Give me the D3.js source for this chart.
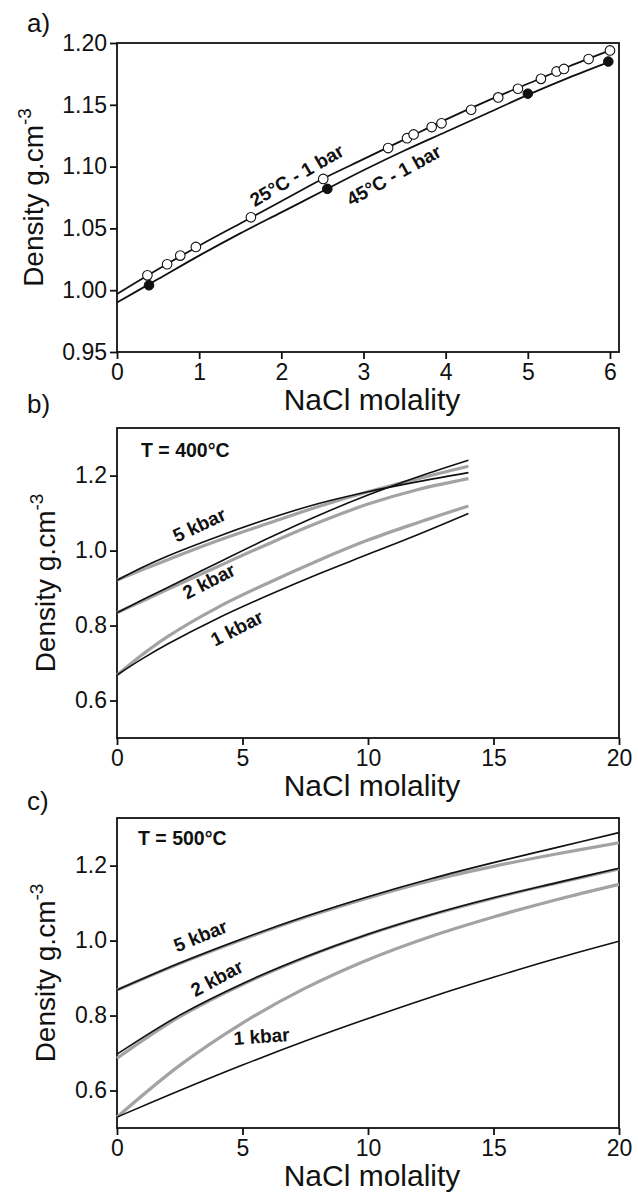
<!DOCTYPE html>
<html><head><meta charset="utf-8">
<script src="https://cdn.jsdelivr.net/npm/d3@7"></script>
<style>
body{margin:0;background:#fff}
svg{display:block}
text{font-family:"Liberation Sans",Arial,Helvetica,sans-serif}
</style>
</head><body>
<svg id="chart" width="638" height="1197"></svg>
<script>
// ---------- DATA ----------
// Panel a) 1 bar, 0–6 molal
const aLineM = [0,0.5,1,1.5,2,2.5,3,3.5,4,4.5,5,5.5,6];
const a25Line = [0.997,1.017,1.036,1.054,1.072,1.090,1.106,1.122,1.138,1.153,1.167,1.181,1.194];
const a45Line = [0.990,1.009,1.028,1.046,1.063,1.080,1.097,1.113,1.128,1.143,1.158,1.172,1.185];
const a25PtsM = [0.37,0.61,0.77,0.96,1.63,2.51,3.30,3.53,3.61,3.83,3.95,4.31,4.64,4.88,5.16,5.35,5.44,5.74,6.00];
const a25PtsD = [1.012,1.021,1.028,1.035,1.059,1.090,1.115,1.123,1.126,1.132,1.135,1.146,1.156,1.163,1.171,1.177,1.179,1.187,1.194];
const a45PtsM = [0.39,2.56,5.00,5.98];
const a45PtsD = [1.004,1.082,1.159,1.185];
const aXTicks = [0,1,2,3,4,5,6];
const aYTicks = [0.95,1.00,1.05,1.10,1.15,1.20];

// Panel b) T = 400°C
const bM = [0,1,2,4,6,8,10,12,14];
const b5Black = [0.921,0.955,0.985,1.037,1.084,1.125,1.157,1.184,1.208];
const b5Gray  = [0.921,0.949,0.975,1.026,1.072,1.117,1.157,1.192,1.225];
const b2Black = [0.834,0.868,0.901,0.967,1.032,1.093,1.148,1.197,1.241];
const b2Gray  = [0.834,0.865,0.896,0.957,1.017,1.074,1.124,1.163,1.192];
const b1Black = [0.668,0.711,0.750,0.819,0.880,0.937,0.990,1.043,1.099];
const b1Gray  = [0.668,0.722,0.770,0.848,0.913,0.973,1.028,1.075,1.119];

// Panel c) T = 500°C
const cM = [0,2.5,5,7.5,10,12.5,15,17.5,20];
const c5Black = [0.868,0.940,1.005,1.064,1.117,1.165,1.208,1.248,1.288];
const c5Gray  = [0.868,0.939,1.003,1.062,1.114,1.160,1.198,1.231,1.261];
const c2Black = [0.697,0.801,0.885,0.956,1.017,1.069,1.114,1.154,1.193];
const c2Gray  = [0.686,0.797,0.883,0.955,1.016,1.068,1.113,1.153,1.191];
const c1Black = [0.529,0.600,0.668,0.732,0.792,0.849,0.902,0.952,0.998];
const c1Gray  = [0.529,0.667,0.780,0.873,0.949,1.011,1.063,1.109,1.150];

const bcXTicks = [0,5,10,15,20];
const bcYTicks = [0.6,0.8,1.0,1.2];

// ---------- DRAW ----------
const svg = d3.select("#chart");
const L = 117, R = 619;
const INK = "#111";
const GRAY = "#a3a3a3";

function panel(o){
  const x = d3.scaleLinear().domain(o.xDom).range([L,R]);
  const y = d3.scaleLinear().domain(o.yDom).range([o.bottom,o.top]);
  const g = svg.append("g");
  const xa = g.append("g").attr("transform",`translate(0,${o.bottom})`)
    .call(d3.axisBottom(x).tickValues(o.xTicks).tickSize(7).tickPadding(5).tickFormat(d3.format("d")));
  const ya = g.append("g").attr("transform",`translate(${L},0)`)
    .call(d3.axisLeft(y).tickValues(o.yTicks).tickSize(7).tickPadding(3).tickFormat(d3.format(o.yFmt)));
  [xa,ya].forEach(a=>{
    a.select(".domain").remove();
    a.selectAll(".tick line").attr("stroke",INK).attr("stroke-width",1.8);
    a.selectAll(".tick text").attr("fill",INK).attr("font-size",23).attr("font-family",'"Liberation Sans",Arial,sans-serif');
  });
  g.append("rect").attr("x",L).attr("y",o.top).attr("width",R-L).attr("height",o.bottom-o.top)
    .attr("fill","none").attr("stroke",INK).attr("stroke-width",1.8);
  g.append("text").attr("x",(L+R)/2+4).attr("y",o.bottom+58).attr("text-anchor","middle")
    .attr("font-size",30).attr("fill",INK).text("NaCl molality");
  const yt = g.append("text").attr("transform",`translate(${o.yTitleX},${(o.top+o.bottom)/2}) rotate(-90)`)
    .attr("text-anchor","middle").attr("font-size",28).attr("fill",INK);
  yt.append("tspan").text("Density g.cm");
  yt.append("tspan").attr("font-size",19).attr("dy",-12).text("-3");
  g.append("text").attr("x",27).attr("y",o.labelY).attr("font-size",26).attr("fill",INK).text(o.label);
  return {g,x,y};
}

function curve(p, xs, ys, color, w){
  const line = d3.line().x((d,i)=>p.x(xs[i])).y(d=>p.y(d)).curve(d3.curveCatmullRom.alpha(0.5));
  p.g.append("path").datum(ys).attr("d",line).attr("fill","none")
    .attr("stroke",color).attr("stroke-width",w).attr("stroke-linecap","butt");
}
function label(p, txt, cx, cy, ang){
  p.g.append("text").attr("transform",`translate(${cx},${cy}) rotate(${ang})`)
    .attr("text-anchor","middle").attr("font-size",19).attr("font-weight","bold").attr("fill",INK).text(txt);
}

// Panel a
const pa = panel({top:43,bottom:352,xDom:[0,6.11],yDom:[0.95,1.20],xTicks:aXTicks,yTicks:aYTicks,yFmt:".2f",yTitleX:43,label:"a)",labelY:32});
curve(pa, aLineM, a25Line, INK, 1.8);
curve(pa, aLineM, a45Line, INK, 1.8);
pa.g.selectAll("circle.o").data(a25PtsM).enter().append("circle")
  .attr("cx",d=>pa.x(d)).attr("cy",(d,i)=>pa.y(a25PtsD[i])).attr("r",4.8)
  .attr("fill","#fff").attr("stroke",INK).attr("stroke-width",1.1);
pa.g.selectAll("circle.f").data(a45PtsM).enter().append("circle")
  .attr("cx",d=>pa.x(d)).attr("cy",(d,i)=>pa.y(a45PtsD[i])).attr("r",4.8)
  .attr("fill",INK).attr("stroke",INK).attr("stroke-width",1);
label(pa,"25°C - 1 bar",300,181,-30);
label(pa,"45°C - 1 bar",397,181,-29);

// Panel b
const pb = panel({top:428,bottom:738,xDom:[0,20],yDom:[0.5,1.327],xTicks:bcXTicks,yTicks:bcYTicks,yFmt:".1f",yTitleX:55,label:"b)",labelY:413});
curve(pb,bM,b5Gray,GRAY,3.2);
curve(pb,bM,b2Gray,GRAY,3.2);
curve(pb,bM,b1Gray,GRAY,3.2);
curve(pb,bM,b5Black,INK,1.6);
curve(pb,bM,b2Black,INK,1.6);
curve(pb,bM,b1Black,INK,1.6);
pb.g.append("text").attr("x",141).attr("y",457).attr("font-size",19.5).attr("font-weight","bold").attr("fill",INK).text("T = 400°C");
label(pb,"5 kbar",202,531,-25);
label(pb,"2 kbar",212,587,-27);
label(pb,"1 kbar",240,634,-27);

// Panel c
const pc = panel({top:818,bottom:1128,xDom:[0,20],yDom:[0.5,1.327],xTicks:bcXTicks,yTicks:bcYTicks,yFmt:".1f",yTitleX:55,label:"c)",labelY:810});
curve(pc,cM,c5Gray,GRAY,3.2);
curve(pc,cM,c2Gray,GRAY,3.2);
curve(pc,cM,c1Gray,GRAY,3.2);
curve(pc,cM,c5Black,INK,1.6);
curve(pc,cM,c2Black,INK,1.6);
curve(pc,cM,c1Black,INK,1.6);
pc.g.append("text").attr("x",138).attr("y",845).attr("font-size",19.5).attr("font-weight","bold").attr("fill",INK).text("T = 500°C");
label(pc,"5 kbar",203,942,-22);
label(pc,"2 kbar",220,984,-28);
label(pc,"1 kbar",262,1043,-4);
</script>
</body></html>
